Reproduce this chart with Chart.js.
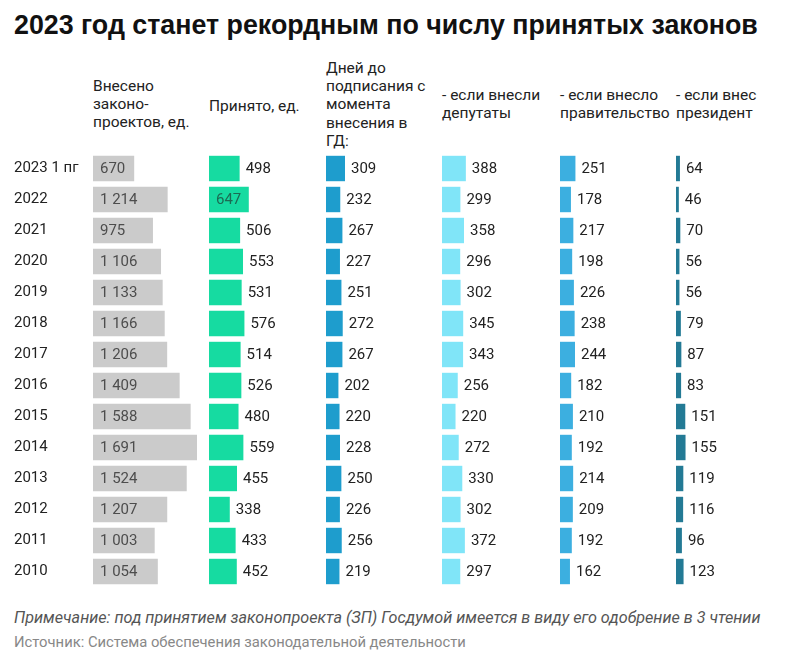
<!DOCTYPE html>
<html>
<head>
<meta charset="utf-8">
<script src="https://cdn.jsdelivr.net/npm/chart.js@4"></script>
<style>
  body { margin: 0; background: #fff; font-family: Roboto, sans-serif; color: #222; }
  #wrap { position: relative; width: 800px; height: 665px; overflow: hidden; }
  .title { position: absolute; left: 14px; top: 10px; font: bold 26.8px "Liberation Sans", Arial, sans-serif; color: #111; white-space: nowrap; }
  .head { position: absolute; font-size: 15.5px; line-height: 18.2px; color: #222; white-space: nowrap; }
  .note { position: absolute; left: 14px; top: 608px; font-style: italic; font-size: 16.2px; color: #555; white-space: nowrap; }
  .src { position: absolute; left: 14px; top: 633px; font-size: 14.8px; color: #888; white-space: nowrap; }
  #box { position: absolute; left: 0; top: 153px; width: 800px; height: 434px; }
</style>
</head>
<body>
<div id="wrap">
  <div class="title">2023 год станет рекордным по числу принятых законов</div>
  <div class="head" style="left:93px; top:77px">Внесено<br>законо-<br>проектов, ед.</div>
  <div class="head" style="left:209px; top:97px">Принято, ед.</div>
  <div class="head" style="left:326px; top:59px">Дней до<br>подписания с<br>момента<br>внесения в<br>ГД:</div>
  <div class="head" style="left:442px; top:86px">- если внесли<br>депутаты</div>
  <div class="head" style="left:560px; top:86px">- если внесло<br>правительство</div>
  <div class="head" style="left:676px; top:86px">- если внес<br>президент</div>
  <div id="box"><canvas id="myChart"></canvas></div>
  <div class="note">Примечание: под принятием законопроекта (ЗП) Госдумой имеется в виду его одобрение в 3 чтении</div>
  <div class="src">Источник: Система обеспечения законодательной деятельности</div>
</div>
<script>
var years = ['2023 1 пг', '2022', '2021', '2020', '2019', '2018', '2017', '2016', '2015', '2014', '2013', '2012', '2011', '2010'];
var introduced = [670, 1214, 975, 1106, 1133, 1166, 1206, 1409, 1588, 1691, 1524, 1207, 1003, 1054];
var passed = [498, 647, 506, 553, 531, 576, 514, 526, 480, 559, 455, 338, 433, 452];
var daysAll = [309, 232, 267, 227, 251, 272, 267, 202, 220, 228, 250, 226, 256, 219];
var daysDeputies = [388, 299, 358, 296, 302, 345, 343, 256, 220, 272, 330, 302, 372, 297];
var daysGovernment = [251, 178, 217, 198, 226, 238, 244, 182, 210, 192, 214, 209, 192, 162];
var daysPresident = [64, 46, 70, 56, 56, 79, 87, 83, 151, 155, 119, 116, 96, 123];

var columns = [introduced, passed, daysAll, daysDeputies, daysGovernment, daysPresident];
var colors = ['#cbcbcb', '#16dba1', '#1e9dcd', '#80e5f8', '#3cafe0', '#237a95'];
var insideText = ['#4d4d4d', '#1c6b53', '#222', '#222', '#222', '#222'];
var colStart = [93, 209, 326, 442, 560, 676];
var pxPerUnit = 0.0615;
var plotLeft = 93, plotRight = 800;

function fmt(v) {
  return String(v).replace(/\B(?=(\d{3})+(?!\d))/g, ' ');
}

var scales = {
  y: {
    grid: { display: false },
    border: { display: false },
    ticks: { crossAlign: 'far', color: '#222', font: { family: 'Roboto', size: 15 } },
    afterFit: function (scale) {
      scale.width = plotLeft - 14;
      scale.paddingTop = 0;
      scale.paddingBottom = 0;
    }
  }
};
var datasets = columns.map(function (vals, i) {
  scales['x' + i] = {
    display: false,
    min: -(colStart[i] - plotLeft) / pxPerUnit,
    max: (plotRight - colStart[i]) / pxPerUnit
  };
  return {
    data: vals,
    xAxisID: 'x' + i,
    backgroundColor: colors[i],
    grouped: false,
    barPercentage: 0.82,
    categoryPercentage: 1
  };
});

// value labels: inside the bar when it fits, otherwise just after it
var valueLabels = {
  id: 'valueLabels',
  afterDatasetsDraw: function (chart) {
    var c = chart.ctx;
    c.save();
    c.font = '15px Roboto';
    c.textBaseline = 'middle';
    c.textAlign = 'left';
    chart.data.datasets.forEach(function (ds, i) {
      chart.getDatasetMeta(i).data.forEach(function (bar, j) {
        var txt = fmt(ds.data[j]);
        var w = c.measureText(txt).width;
        if (i === 0 || bar.x - bar.base >= w + 12) {
          c.fillStyle = insideText[i];
          c.fillText(txt, bar.base + 7, bar.y + 1);
        } else {
          c.fillStyle = '#222';
          c.fillText(txt, bar.x + 6, bar.y + 1);
        }
      });
    });
    c.restore();
  }
};

var ctx = document.getElementById('myChart').getContext('2d');
var myChart = new Chart(ctx, {
  type: 'bar',
  data: { labels: years, datasets: datasets },
  options: {
    indexAxis: 'y',
    responsive: true,
    maintainAspectRatio: false,
    animation: false,
    layout: { padding: { left: 14, right: 0, top: 0, bottom: 0 } },
    scales: scales,
    plugins: {
      legend: { display: false },
      tooltip: { enabled: false }
    }
  },
  plugins: [valueLabels]
});
</script>
</body>
</html>
